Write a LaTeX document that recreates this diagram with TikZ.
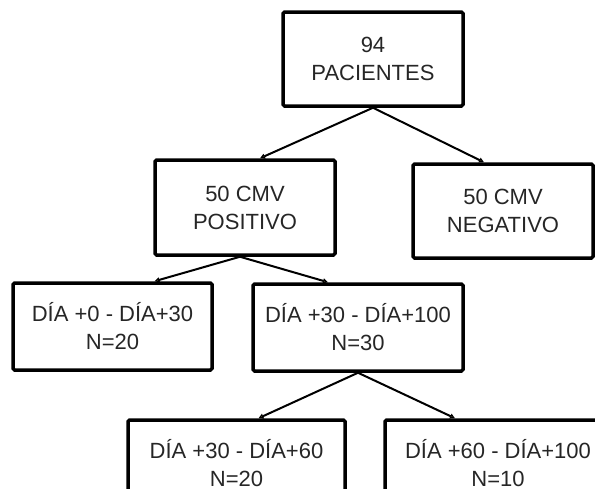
\documentclass[tikz,border=0pt]{standalone}
\usepackage{fontspec}
\setmainfont{Liberation Sans}
\usetikzlibrary{arrows.meta}

\begin{document}
\begin{tikzpicture}[x=1pt, y=-1pt,
    box/.style={draw=black, line width=3.5pt, rounded corners=1.5pt, align=center,
      inner sep=0pt, text=black!85, font=\fontsize{22}{28}\selectfont},
    arr/.style={line width=2pt, -{Triangle[length=5pt, width=5pt, open, fill=yellow!40!brown!60]}}]
    \useasboundingbox (0,0) rectangle (595,488);
    \clip (0,0) rectangle (595,488);

    \node[box, minimum width=180pt, minimum height=94pt] (pac) at (373,59) {94\\PACIENTES};
    \node[box, minimum width=180pt, minimum height=95pt] (pos) at (245,207.5) {50 CMV\\POSITIVO};
    \node[box, minimum width=180pt, minimum height=94pt] (neg) at (503,211) {50 CMV\\NEGATIVO};
    \node[box, minimum width=199pt, minimum height=87pt] (d0) at (112.5,326.5) {DÍA +0 - DÍA+30\\N=20};
    \node[box, minimum width=210pt, minimum height=87pt] (d30) at (358,327.5) {DÍA +30 - DÍA+100\\N=30};
    \node[box, minimum width=217pt, minimum height=87pt] (d3060) at (236.5,463.5) {DÍA +30 - DÍA+60\\N=20};
    \node[box, minimum width=226pt, minimum height=87pt] (d60) at (498,463.5) {DÍA +60 - DÍA+100\\N=10};

    % arrows between levels
    \draw[arr] (pac.south) -- ([xshift=15pt]pos.north);
    \draw[arr] (pac.south) -- ([xshift=-19pt]neg.north);
    \draw[arr] ([xshift=-5pt]pos.south) -- ([xshift=42pt]d0.north);
    \draw[arr] ([xshift=-5pt]pos.south) -- ([xshift=-30pt]d30.north);
    \draw[arr] (d30.south) -- ([xshift=22pt]d3060.north);
    \draw[arr] (d30.south) -- ([xshift=-43pt]d60.north);
\end{tikzpicture}
\end{document}
